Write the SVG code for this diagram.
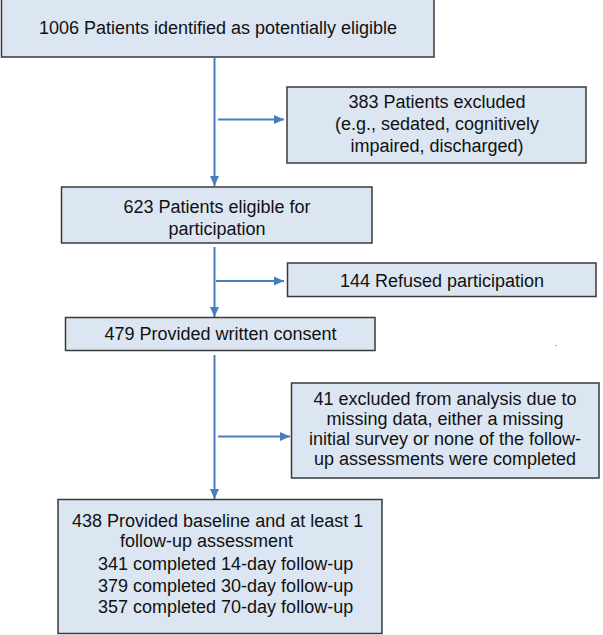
<svg xmlns="http://www.w3.org/2000/svg" width="603" height="635" viewBox="0 0 603 635">
<style>
.box{fill:#dce6f2;stroke:#3a3a3a;stroke-width:1.5}
.t{font-family:"Liberation Sans",Arial,sans-serif;font-size:18px;fill:#111}
.c{text-anchor:middle}
.conn{stroke:#4a7ebb;stroke-width:2;fill:none}
</style>
<defs>
<marker id="ah" markerUnits="userSpaceOnUse" markerWidth="12" markerHeight="12" viewBox="0 0 12 12" refX="11" refY="6" orient="auto">
<path d="M1,1.5 L11,6 L1,10.5 Z" fill="#4a7ebb"/>
</marker>
</defs>
<rect width="603" height="635" fill="#fff"/>
<g id="connectors">
<line class="conn" x1="214.5" y1="58" x2="214.5" y2="186" marker-end="url(#ah)"/>
<line class="conn" x1="218" y1="119.5" x2="284" y2="119.5" marker-end="url(#ah)"/>
<line class="conn" x1="214.5" y1="247" x2="214.5" y2="317" marker-end="url(#ah)"/>
<line class="conn" x1="216" y1="281" x2="284" y2="281" marker-end="url(#ah)"/>
<line class="conn" x1="214.5" y1="355" x2="214.5" y2="499" marker-end="url(#ah)"/>
<line class="conn" x1="218" y1="436.5" x2="290" y2="436.5" marker-end="url(#ah)"/>
</g>
<g id="n1">
<rect class="box" x="1.5" y="-2" width="432.5" height="59"/>
<text class="t c" x="218" y="34">1006 Patients identified as potentially eligible</text>
</g>
<g id="n2">
<rect class="box" x="287" y="87" width="299" height="76"/>
<text class="t c" x="437" y="108">383 Patients excluded</text>
<text class="t c" x="437" y="130">(e.g., sedated, cognitively</text>
<text class="t c" x="437" y="152">impaired, discharged)</text>
</g>
<g id="n3">
<rect class="box" x="61.5" y="187" width="310.5" height="56"/>
<text class="t c" x="217" y="212.5">623 Patients eligible for</text>
<text class="t c" x="217" y="234.5">participation</text>
</g>
<g id="n4">
<rect class="box" x="287.5" y="263" width="308.5" height="33.5"/>
<text class="t c" x="442" y="287">144 Refused participation</text>
</g>
<g id="n5">
<rect class="box" x="65.5" y="317.5" width="309.5" height="33"/>
<text class="t c" x="220.5" y="340">479 Provided written consent</text>
</g>
<text class="t" x="555" y="346" style="font-size:8px">.</text>
<g id="n6">
<rect class="box" x="291.5" y="383" width="307.5" height="95"/>
<text class="t c" x="445" y="405">41 excluded from analysis due to</text>
<text class="t c" x="445" y="425">missing data, either a missing</text>
<text class="t c" x="445" y="445">initial survey or none of the follow-</text>
<text class="t c" x="445" y="464.5">up assessments were completed</text>
</g>
<g id="n7">
<rect class="box" x="58" y="499.5" width="324" height="134"/>
<text class="t" x="72" y="526.5">438 Provided baseline and at least 1</text>
<text class="t" x="120" y="547">follow-up assessment</text>
<text class="t" x="98" y="570">341 completed 14-day follow-up</text>
<text class="t" x="98" y="591.5">379 completed 30-day follow-up</text>
<text class="t" x="98" y="613">357 completed 70-day follow-up</text>
</g>
</svg>
